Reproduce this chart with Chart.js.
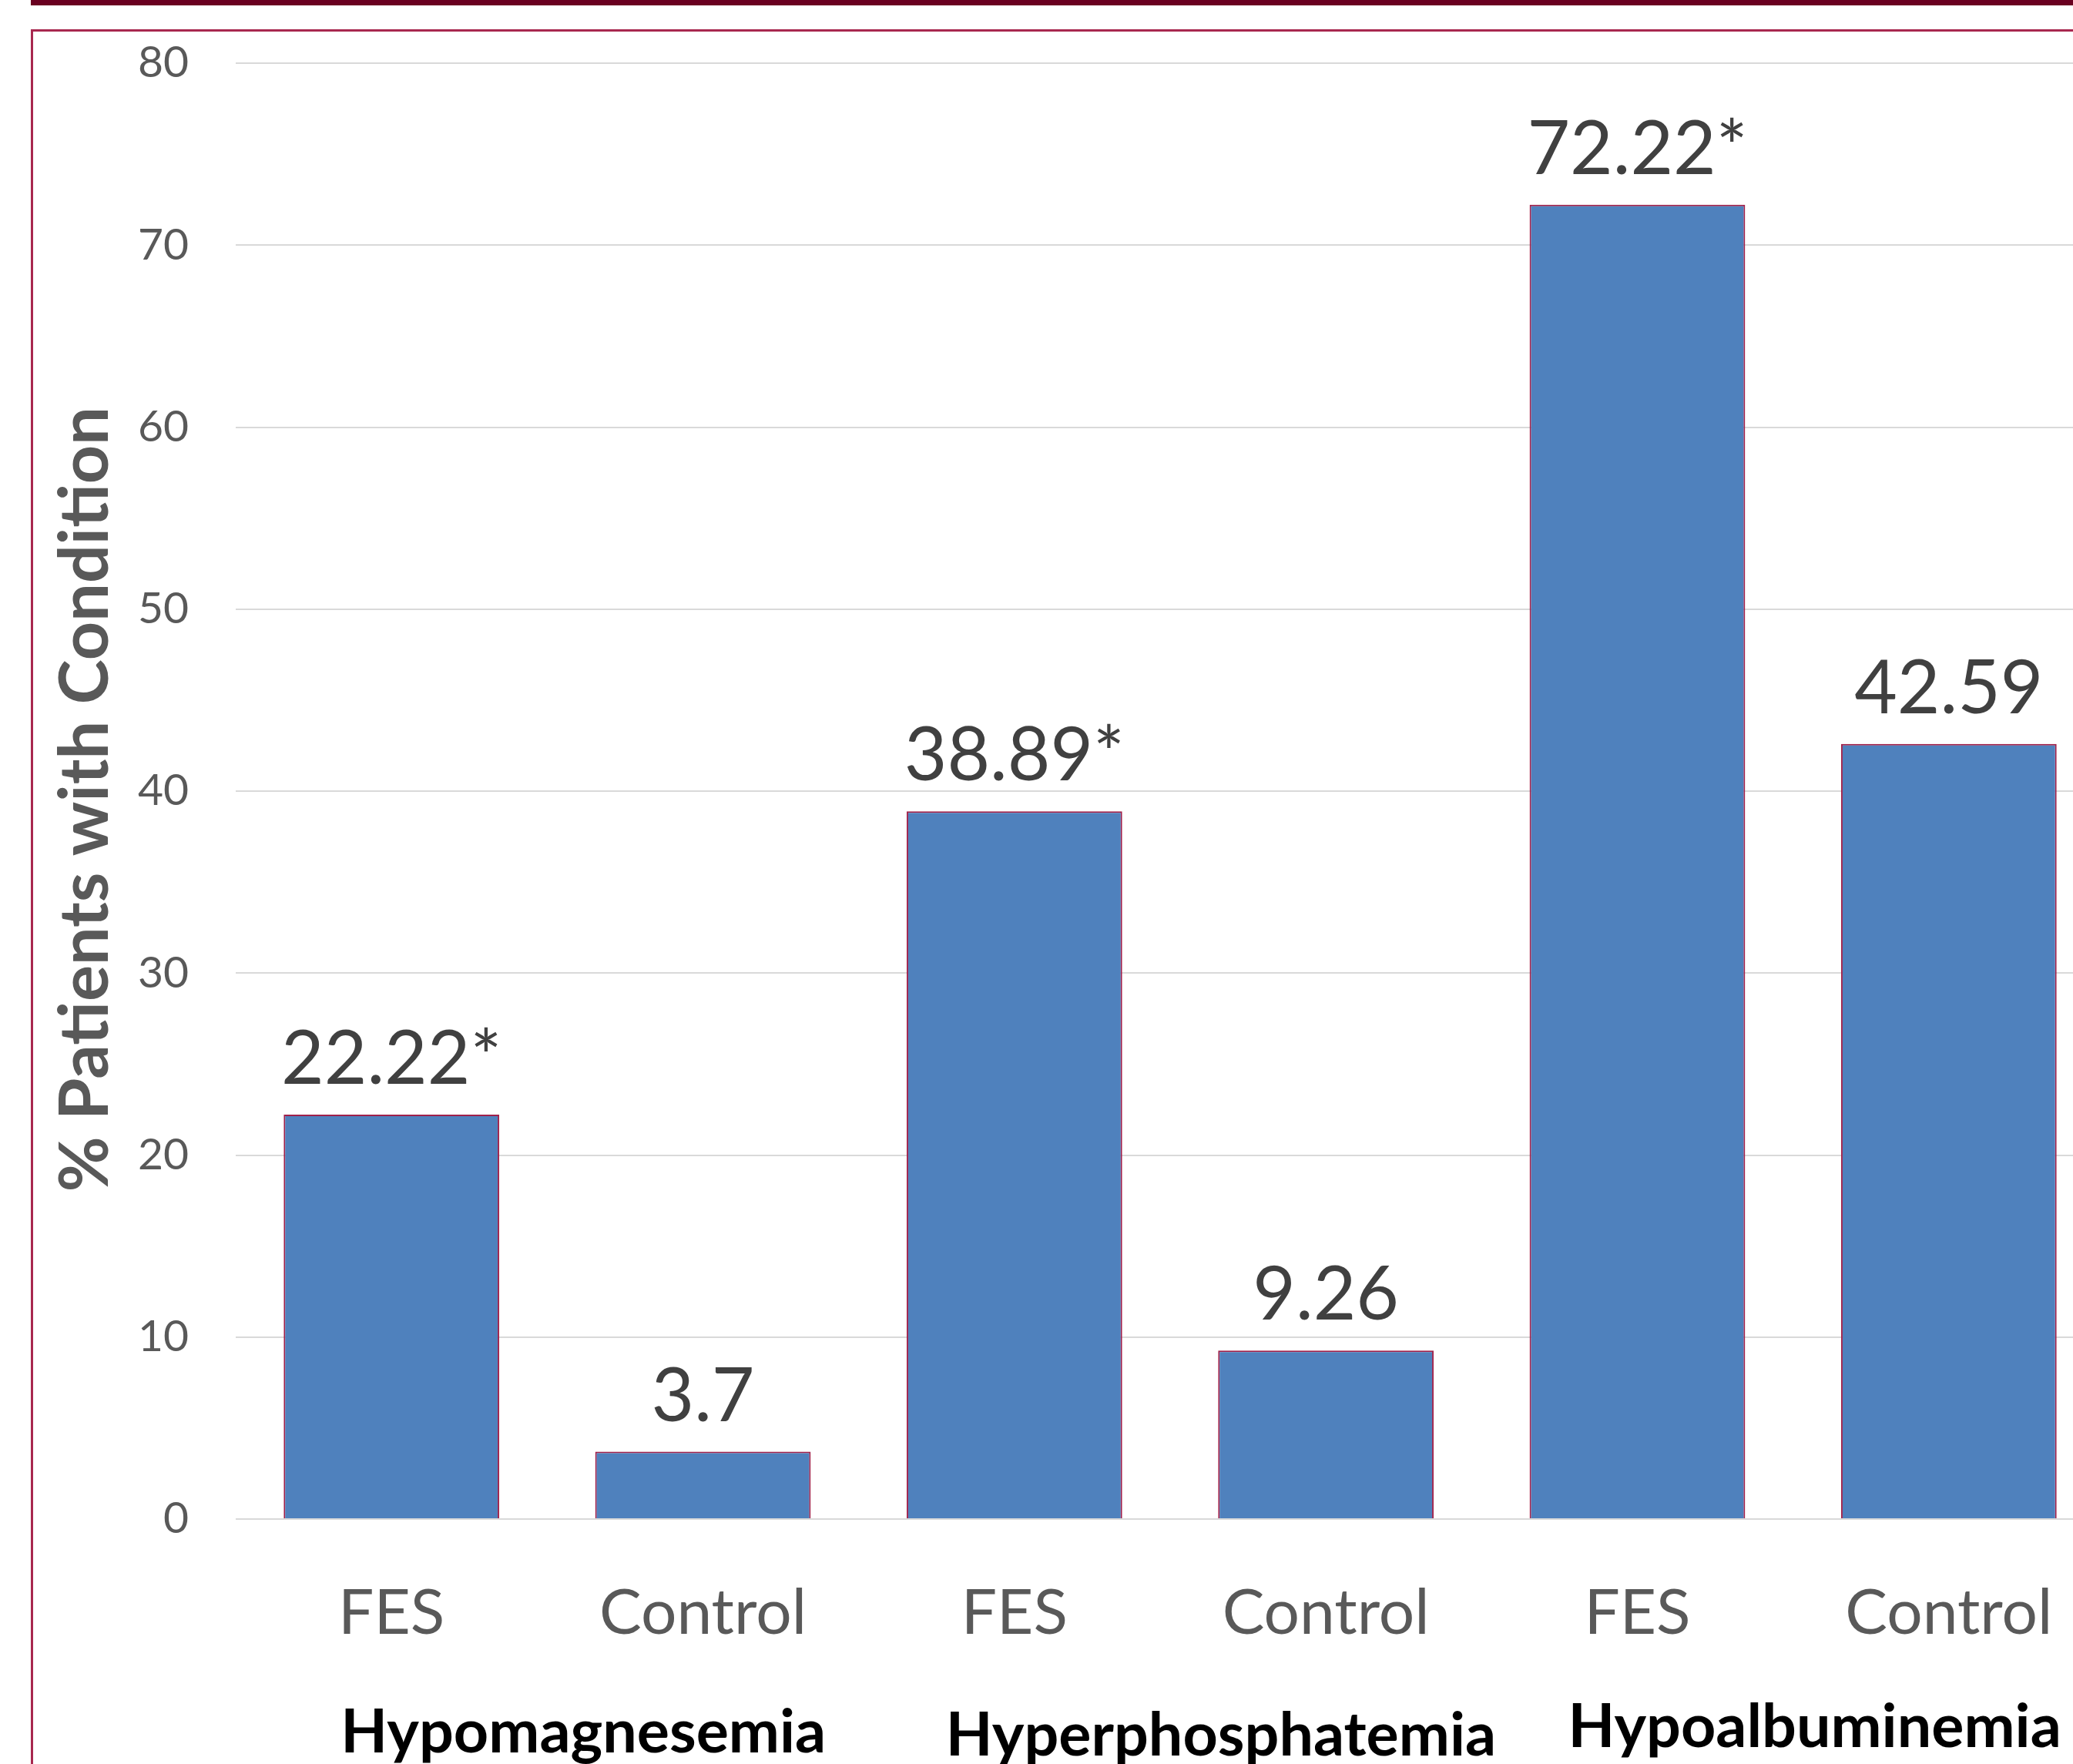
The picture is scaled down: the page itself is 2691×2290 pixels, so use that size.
<!DOCTYPE html>
<html>
<head>
<meta charset="utf-8">
<title>% Patients with Condition</title>
<script src="https://cdn.jsdelivr.net/npm/chart.js@4.4.0/dist/chart.umd.min.js"></script>
<style>
    html, body { margin: 0; padding: 0; background: #fff; overflow: hidden; width: 2691px; height: 2290px; }
    #topbar { position: absolute; left: 40px; top: 0; width: 2700px; height: 7px; background: #6a0020; }
    #frame { position: absolute; left: 40px; top: 38px; width: 2800px; height: 2400px; border: 3px solid #a8284f; pointer-events: none; }
    #chart { position: absolute; left: 0; top: 0; }
</style>
</head>
<body>
<div id="topbar"></div>
<canvas id="chart" width="2760" height="2312"></canvas>
<div id="frame"></div>

<script>
// 데이터
const categories = ['FES', 'Control', 'FES', 'Control', 'FES', 'Control'];
const percentValues = [22.22, 3.7, 38.89, 9.26, 72.22, 42.59];
const significant = [true, false, true, false, true, false];
const groupNames = ['Hypomagnesemia', 'Hyperphosphatemia', 'Hypoalbuminemia'];
const yTicks = [0, 10, 20, 30, 40, 50, 60, 70, 80];

// 그룹 이름 위치 보정 (카테고리 폭 비율, 축 아래 거리)
const groupShift = [0.116, 0.163, 0.069];
const groupDrop = [303, 307, 296];

// 막대 위 값 + 그룹 이름
const barLabels = {
    id: 'barLabels',
    afterDatasetsDraw(chart) {
        const ctx = chart.ctx;
        const meta = chart.getDatasetMeta(0);
        ctx.save();
        ctx.font = '96px Lato';
        ctx.fillStyle = '#404040';
        ctx.textAlign = 'center';
        ctx.textBaseline = 'alphabetic';
        meta.data.forEach((bar, i) => {
            const txt = percentValues[i] + (significant[i] ? '*' : '');
            ctx.fillText(txt, bar.x, bar.y - 40);
        });

        const x = chart.scales.x;
        const step = x.width / categories.length;
        ctx.font = 'bold 79px Lato';
        ctx.fillStyle = '#000000';
        groupNames.forEach((name, g) => {
            const cx = (x.getPixelForValue(g * 2) + x.getPixelForValue(g * 2 + 1)) / 2 + groupShift[g] * step;
            ctx.fillText(name, cx, chart.chartArea.bottom + groupDrop[g]);
        });
        ctx.restore();
    }
};

function drawChart() {
    const ctx = document.getElementById('chart');
    new Chart(ctx, {
        type: 'bar',
        data: {
            labels: categories,
            datasets: [{
                data: percentValues,
                backgroundColor: '#4f81bd',
                borderColor: '#a0204a',
                borderWidth: 2,
                categoryPercentage: 1,
                barPercentage: 0.692
            }]
        },
        options: {
            responsive: false,
            animation: false,
            layout: {
                padding: { left: 0, right: 28, top: 82, bottom: 0 }
            },
            plugins: {
                legend: { display: false },
                tooltip: { enabled: false }
            },
            scales: {
                x: {
                    grid: { display: false },
                    border: { display: false },
                    ticks: {
                        color: '#595959',
                        font: { family: 'Lato', size: 82 },
                        padding: 65,
                        maxRotation: 0
                    },
                    afterFit(scale) { scale.height = 340; }
                },
                y: {
                    min: 0,
                    max: 80,
                    afterBuildTicks(scale) {
                        scale.ticks = yTicks.map(v => ({ value: v }));
                    },
                    grid: { color: '#d9d9d9', lineWidth: 2, drawTicks: false },
                    border: { display: false },
                    ticks: {
                        color: '#595959',
                        font: { family: 'Lato', size: 57 },
                        padding: 61
                    },
                    title: {
                        display: true,
                        text: '% Patients with Condition ',
                        color: '#595959',
                        font: { family: 'Lato', size: 88, weight: 'bold', lineHeight: 1 },
                        padding: { top: 68, bottom: 0 }
                    },
                    afterFit(scale) {
                        scale.width = 306;
                        scale.paddingTop = 0;
                        scale.paddingBottom = 0;
                    }
                }
            }
        },
        plugins: [barLabels]
    });
}

document.addEventListener('DOMContentLoaded', function() {
    Promise.all([
        document.fonts.load('96px Lato'),
        document.fonts.load('bold 79px Lato')
    ]).then(drawChart, drawChart);
});
</script>
</body>
</html>
